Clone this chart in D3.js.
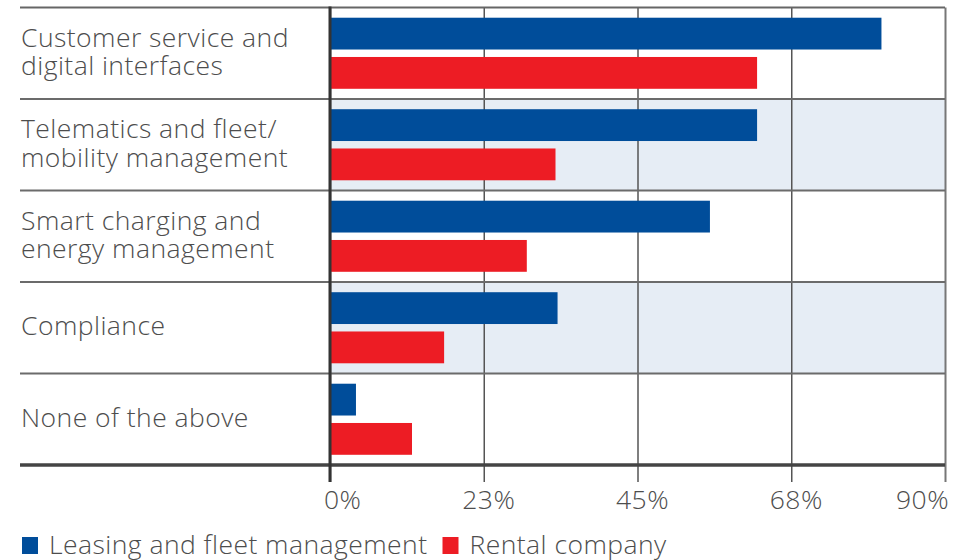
<!DOCTYPE html>
<html>
<head>
<meta charset="utf-8">
<script src="https://cdn.jsdelivr.net/npm/d3@7/dist/d3.min.js"></script>
<style>
  html, body { margin: 0; padding: 0; background: #fff; }
  svg { display: block; }
  text { font-family: "Open Sans", "Noto Sans", sans-serif; font-weight: 300; fill: #4d4d4d; letter-spacing: 0.45px; }
</style>
</head>
<body>
<svg id="chart" width="963" height="560"></svg>
<script>
// Survey categories (each label split into its display lines)
const categories = [
  "Customer service and digital interfaces",
  "Telematics and fleet/ mobility management",
  "Smart charging and energy management",
  "Compliance",
  "None of the above"
];
const categoryLines = [
  ["Customer service and", "digital interfaces"],
  ["Telematics and fleet/", "mobility management"],
  ["Smart charging and", "energy management"],
  ["Compliance"],
  ["None of the above"]
];

// Series and their shares (%)
const seriesNames = ["Leasing and fleet management", "Rental company"];
const leasingValues = [80.7, 62.5, 55.6, 33.3, 3.8];
const rentalValues  = [62.5, 33.0, 28.8, 16.7, 12.0];
const seriesColors = ["#004d9a", "#ed1c24"];

// Axis ticks
const tickValues = [0, 22.5, 45, 67.5, 90];
const tickLabels = ["0%", "23%", "45%", "68%", "90%"];

const svg = d3.select("#chart");
const plotLeft = 330, plotRight = 945, plotTop = 7.5, plotBottom = 465, labelX = 21, lineStart = 20;

const x = d3.scaleLinear().domain([0, 90]).range([plotLeft, plotRight]);
const y = d3.scaleBand().domain(categories).range([plotTop, plotBottom]).padding(0);
const ySeries = d3.scaleBand().domain(seriesNames).range([0, y.bandwidth()])
  .paddingInner(0.19).paddingOuter(0.26);

const rows = categories.map((c, i) => ({
  cat: c, lines: categoryLines[i],
  values: [leasingValues[i], rentalValues[i]]
}));

// Alternating shaded bands
svg.append("g").selectAll("rect")
  .data(rows.filter((d, i) => i % 2 === 1))
  .join("rect")
  .attr("x", plotLeft).attr("width", plotRight - plotLeft)
  .attr("y", d => y(d.cat)).attr("height", y.bandwidth())
  .attr("fill", "#e6edf5");

// Vertical gridlines + ticks below the axis
const xAxis = d3.axisBottom(x).tickValues(tickValues)
  .tickSize(-(plotBottom - plotTop)).tickFormat("");
const gx = svg.append("g").attr("transform", `translate(0,${plotBottom})`).call(xAxis);
gx.select(".domain").remove();
gx.selectAll(".tick line")
  .attr("y2", -(plotBottom - plotTop)).attr("y1", 17)
  .attr("stroke", "#555").attr("stroke-width", 1.5);
gx.selectAll(".tick").filter(d => d === 90).select("line").attr("stroke", "#777").attr("stroke-width", 2);

// Row separators
svg.append("g").selectAll("line")
  .data(categories.slice(1))
  .join("line")
  .attr("x1", lineStart).attr("x2", plotRight)
  .attr("y1", d => y(d)).attr("y2", d => y(d))
  .attr("stroke", "#6b6b6b").attr("stroke-width", 2);

// Top line
svg.append("line").attr("x1", lineStart).attr("x2", plotRight)
  .attr("y1", plotTop).attr("y2", plotTop).attr("stroke", "#666").attr("stroke-width", 2);

// Bars
const groups = svg.append("g").selectAll("g")
  .data(rows).join("g")
  .attr("transform", d => `translate(0,${y(d.cat)})`);
groups.selectAll("rect")
  .data(d => d.values.map((v, k) => ({ v, s: seriesNames[k], k })))
  .join("rect")
  .attr("x", x(0))
  .attr("y", d => ySeries(d.s))
  .attr("width", d => x(d.v) - x(0))
  .attr("height", ySeries.bandwidth())
  .attr("fill", d => seriesColors[d.k]);

// Bottom axis line and zero line
svg.append("line").attr("x1", lineStart).attr("x2", plotRight)
  .attr("y1", plotBottom).attr("y2", plotBottom).attr("stroke", "#444").attr("stroke-width", 3.5);
svg.append("line").attr("x1", x(0)).attr("x2", x(0))
  .attr("y1", plotTop - 1).attr("y2", plotBottom + 17).attr("stroke", "#333").attr("stroke-width", 3);

// Category labels
const fontSize = 26.5;
const lineGap = 28.5;
const labels = svg.append("g").selectAll("text")
  .data(rows).join("text")
  .attr("font-size", fontSize)
  .attr("x", labelX)
  .attr("y", d => y(d.cat) + y.bandwidth() / 2 + 7.5 - (d.lines.length - 1) * lineGap / 2);
labels.selectAll("tspan")
  .data(d => d.lines)
  .join("tspan")
  .attr("x", labelX)
  .attr("dy", (d, i) => i === 0 ? 0 : lineGap)
  .text(d => d);

// Tick labels
svg.append("g").selectAll("text")
  .data(tickValues)
  .join("text")
  .attr("font-size", fontSize)
  .attr("y", 509)
  .attr("x", (d, i) => x(d) + (i === 0 ? -6 : i === tickValues.length - 1 ? 4 : 5))
  .attr("text-anchor", (d, i) => i === 0 ? "start" : i === tickValues.length - 1 ? "end" : "middle")
  .text((d, i) => tickLabels[i]);

// Legend
const legend = svg.append("g");
let lx = 22;
seriesNames.forEach((name, k) => {
  legend.append("rect").attr("x", lx).attr("y", 537).attr("width", 16).attr("height", 17)
    .attr("fill", seriesColors[k]);
  const t = legend.append("text").attr("x", lx + 27).attr("y", 554)
    .attr("font-size", fontSize).text(name);
  lx = lx + 27 + t.node().getComputedTextLength() + 15;
});
</script>
</body>
</html>
